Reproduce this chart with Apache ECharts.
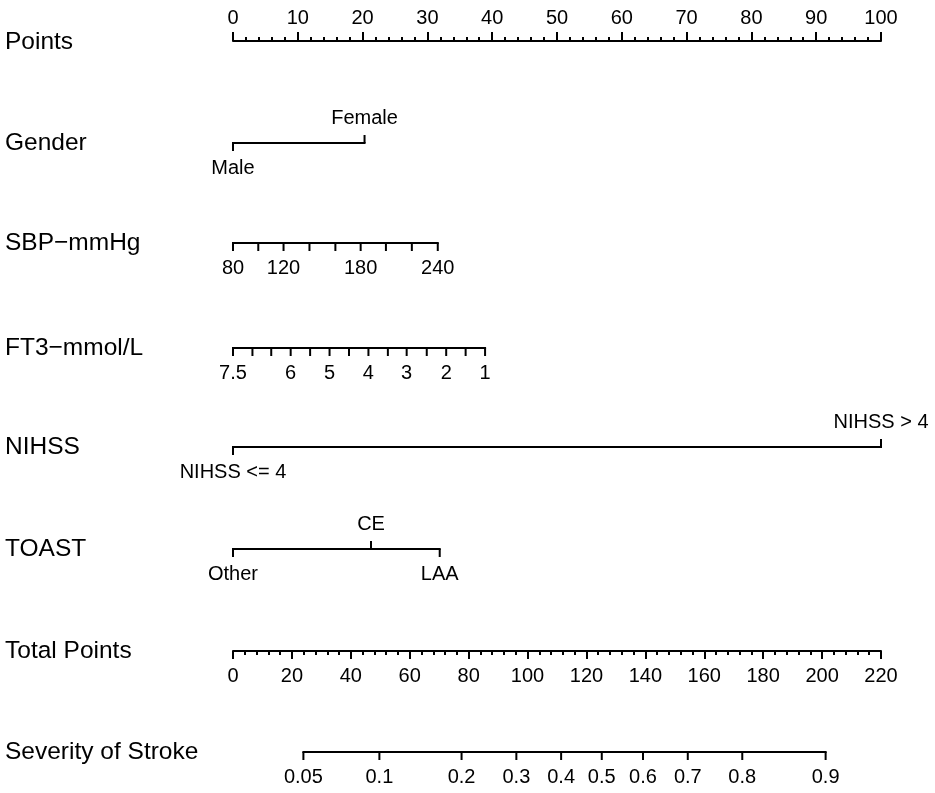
<!DOCTYPE html>
<html>
<head>
<meta charset="utf-8">
<script src="https://cdn.jsdelivr.net/npm/echarts@6/dist/echarts.min.js"></script>
<style>
  html, body { margin: 0; padding: 0; background: #fff; }
  #chart { width: 935px; height: 793px; }
</style>
</head>
<body>
<div id="chart"></div>
<script>
// row titles, top to bottom
const rowNames = ['Points', 'Gender', 'SBP\u2212mmHg', 'FT3\u2212mmol/L', 'NIHSS', 'TOAST', 'Total Points', 'Severity of Stroke'];

// the two point scales
const pointsMax = 100;
const totalMax = 220;

// Gender (points per level)
const genderLevels = ['Male', 'Female'];
const genderPoints = [0, 20.3];

// SBP ticks and their points
const sbpValues = [80, 100, 120, 140, 160, 180, 200, 220, 240];
const sbpPoints = [0, 3.9, 7.8, 11.8, 15.8, 19.7, 23.6, 27.6, 31.6];
const sbpLabelled = [80, 120, 180, 240];

// FT3 ticks and their points
const ft3Values = [7.5, 7, 6.5, 6, 5.5, 5, 4.5, 4, 3.5, 3, 2.5, 2, 1.5, 1];
const ft3Points = [0, 3.0, 5.9, 8.9, 11.9, 14.9, 17.9, 20.9, 23.9, 26.8, 29.9, 32.9, 35.9, 38.9];
const ft3Labelled = [7.5, 6, 5, 4, 3, 2, 1];

// NIHSS
const nihssLevels = ['NIHSS <= 4', 'NIHSS > 4'];
const nihssPoints = [0, 100];

// TOAST
const toastLevels = ['Other', 'CE', 'LAA'];
const toastPoints = [0, 21.3, 31.9];

// Severity of stroke (probability vs total points)
const severityProbs = ['0.05', '0.1', '0.2', '0.3', '0.4', '0.5', '0.6', '0.7', '0.8', '0.9'];
const severityTotals = [23.9, 49.7, 77.6, 96.2, 111.4, 125.2, 139.2, 154.4, 172.9, 201.2];

var FONT = '"Liberation Sans", Arial, Helvetica, sans-serif';
var LABEL_SIZE = 20;
var rowY = [41, 143, 243, 348, 447, 549, 651, 752];

var dom = document.getElementById('chart');
var myChart = echarts.init(dom, null, { renderer: 'canvas' });

// one scale row drawn with a custom series: line, ticks, labels
function scaleRow(idx, positions, labels, sides) {
  return {
    type: 'custom',
    xAxisIndex: idx,
    yAxisIndex: idx,
    clip: false,
    silent: true,
    data: positions.map((p, i) => [p, 0, i]),
    renderItem: function (params, api) {
      var i = api.value(2);
      var pt = api.coord([api.value(0), 0]);
      var children = [];
      if (i === 0) {
        var end = api.coord([positions[positions.length - 1], 0]);
        children.push({
          type: 'line',
          shape: { x1: pt[0] - 1, y1: pt[1], x2: end[0] + 1, y2: end[1] },
          style: { stroke: '#000', lineWidth: 2 }
        });
      }
      var dir = sides[i];
      children.push({
        type: 'line',
        shape: { x1: pt[0], y1: pt[1], x2: pt[0], y2: pt[1] + dir * 8 },
        style: { stroke: '#000', lineWidth: 2 }
      });
      if (labels[i] !== '') {
        children.push({
          type: 'text',
          x: pt[0],
          y: pt[1] + dir * 25,
          style: {
            text: labels[i], align: 'center', verticalAlign: 'middle',
            fontSize: LABEL_SIZE, fontFamily: FONT, fill: '#000'
          }
        });
      }
      return { type: 'group', children: children };
    }
  };
}

function alternate(n) {
  return Array.from({ length: n }, (d, i) => (i % 2 === 0 ? 1 : -1));
}
function down(n) {
  return Array.from({ length: n }, () => 1);
}

var grids = rowY.map(y => ({ left: 233, right: 54, top: y, height: 0 }));

var xAxes = rowY.map((y, i) => ({
  gridIndex: i,
  type: 'value',
  min: 0,
  max: (i >= 6) ? totalMax : pointsMax,
  show: false,
  splitLine: { show: false }
}));

// Points axis (ticks and labels above the line)
xAxes[0] = {
  gridIndex: 0,
  type: 'value',
  min: 0,
  max: pointsMax,
  interval: 10,
  position: 'bottom',
  axisLine: { show: true, lineStyle: { color: '#000', width: 2 } },
  axisTick: { show: true, inside: true, length: 9, lineStyle: { color: '#000', width: 2 } },
  minorTick: { show: true, splitNumber: 5, length: 4, lineStyle: { color: '#000', width: 2 } },
  axisLabel: { inside: true, margin: 13, fontSize: LABEL_SIZE, color: '#000', fontFamily: FONT, showMinLabel: true, showMaxLabel: true },
  splitLine: { show: false }
};

// Total Points axis
xAxes[6] = {
  gridIndex: 6,
  type: 'value',
  min: 0,
  max: totalMax,
  interval: 20,
  position: 'bottom',
  axisLine: { show: true, lineStyle: { color: '#000', width: 2 } },
  axisTick: { show: true, length: 8, lineStyle: { color: '#000', width: 2 } },
  minorTick: { show: true, splitNumber: 5, length: 4, lineStyle: { color: '#000', width: 2 } },
  axisLabel: { margin: 15, fontSize: LABEL_SIZE, color: '#000', fontFamily: FONT, showMinLabel: true, showMaxLabel: true },
  splitLine: { show: false }
};

var yAxes = rowY.map((y, i) => ({ gridIndex: i, type: 'value', min: 0, max: 1, show: false }));

var series = [
  scaleRow(1, genderPoints, genderLevels, alternate(genderLevels.length)),
  scaleRow(2, sbpPoints, sbpValues.map(v => sbpLabelled.includes(v) ? String(v) : ''), down(sbpValues.length)),
  scaleRow(3, ft3Points, ft3Values.map(v => ft3Labelled.includes(v) ? String(v) : ''), down(ft3Values.length)),
  scaleRow(4, nihssPoints, nihssLevels, alternate(nihssLevels.length)),
  scaleRow(5, toastPoints, toastLevels, alternate(toastLevels.length)),
  scaleRow(7, severityTotals, severityProbs, down(severityProbs.length))
];

var titles = rowNames.map((name, i) => ({
  type: 'text',
  x: 5,
  y: rowY[i] + (i === 0 ? 1 : 0),
  silent: true,
  style: { text: name, fontSize: 24.5, fontFamily: FONT, fill: '#000', verticalAlign: 'middle' }
}));

var option = {
  animation: false,
  backgroundColor: '#fff',
  grid: grids,
  xAxis: xAxes,
  yAxis: yAxes,
  series: series,
  graphic: titles
};

myChart.setOption(option);
window.addEventListener('resize', myChart.resize);
</script>
</body>
</html>
